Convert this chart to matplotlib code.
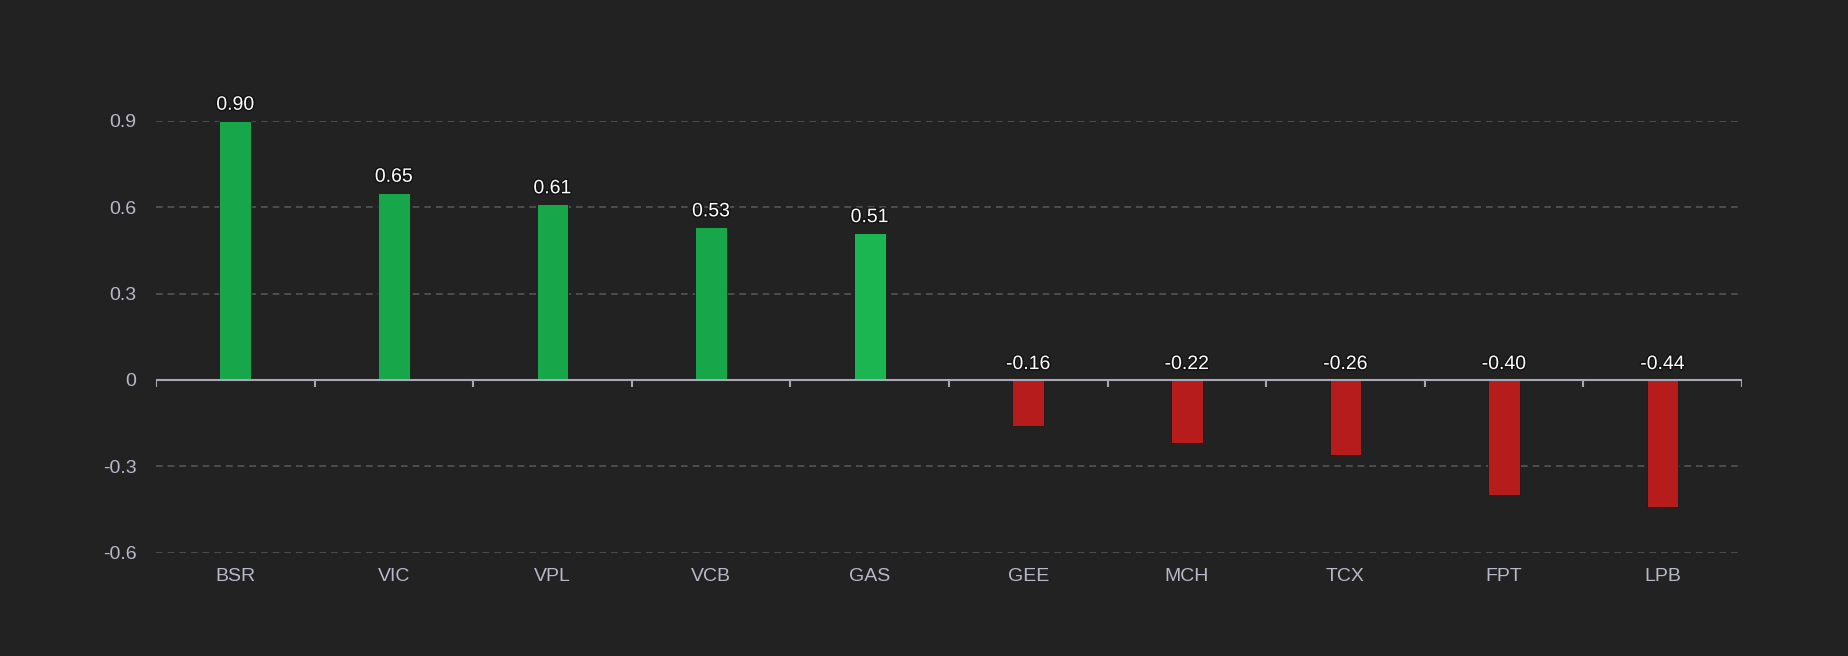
import numpy as np
import matplotlib
matplotlib.use('Agg')
import matplotlib.pyplot as plt
import matplotlib.patheffects as pe

# data
tickers = ['BSR', 'VIC', 'VPL', 'VCB', 'GAS', 'GEE', 'MCH', 'TCX', 'FPT', 'LPB']
values = [0.90, 0.65, 0.61, 0.53, 0.51, -0.16, -0.22, -0.26, -0.40, -0.44]
yticks = [-0.6, -0.3, 0, 0.3, 0.6, 0.9]
ytick_labels = ['-0.6', '-0.3', '0', '0.3', '0.6', '0.9']

BG = '#222222'
GREEN = '#18a64a'
GREEN_HI = '#1bb552'
RED = '#b71c1c'
TXT = '#b8b8cc'
AXIS = '#a8a8b8'
GRID = '#555558'

plt.rcParams['font.family'] = ['Liberation Sans', 'DejaVu Sans']

fig = plt.figure(figsize=(18.48, 6.56), dpi=100, facecolor=BG)
ax = fig.add_axes([0.0844, 0.1573, 0.8582, 0.6587], facecolor=BG)

x = np.arange(len(tickers))
colors = [RED if v < 0 else GREEN for v in values]
colors[4] = GREEN_HI  # highlighted bar
ax.bar(x, values, width=0.2, color=colors, edgecolor='#1a1a1a', linewidth=0.6, zorder=3)

for xi, v in zip(x, values):
    ax.annotate(f'{v:.2f}', (xi, max(v, 0)), xytext=(0, 5), textcoords='offset points',
                ha='center', va='bottom', fontsize=14, color='white', zorder=5,
                path_effects=[pe.withStroke(linewidth=2, foreground='#111111')])

ax.set_xlim(-0.5, len(tickers) - 0.5)
ax.set_ylim(-0.6, 0.9)

for y in yticks:
    if y != 0:
        ax.axhline(y, color=GRID, linestyle=(0, (4, 3)), linewidth=1.2, zorder=1)

# zero axis line with category boundary ticks
ax.axhline(0, color=AXIS, linewidth=1.5, zorder=4)
bounds = np.arange(len(tickers) + 1) - 0.5
ax.vlines(bounds, -0.024, 0, color=AXIS, linewidth=1.5, zorder=4)

ax.set_xticks(x)
ax.set_xticklabels(tickers)
ax.set_yticks(yticks)
ax.set_yticklabels(ytick_labels)
ax.tick_params(axis='x', length=0, pad=11, labelsize=14, colors=TXT)
ax.tick_params(axis='y', length=0, pad=14, labelsize=14, colors=TXT)

for s in ax.spines.values():
    s.set_visible(False)

fig.savefig('out.png', dpi=100, facecolor=BG)
